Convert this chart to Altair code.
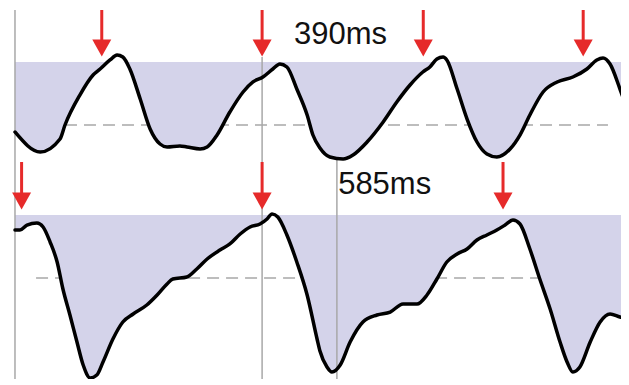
import altair as alt
import pandas as pd

# ---------------- data (time in ms, amplitude relative: 0 = dashed baseline, 1 = shading ceiling)
top_ms = [0, 61, 109, 121, 157, 189, 206, 230, 247, 261, 278, 303, 327, 351, 368, 399, 416, 448, 465, 489,
          520, 552, 576, 600, 624, 641, 658, 682, 707, 721, 738, 762, 794, 818, 852, 891, 924, 956, 987, 1004,
          1021, 1036, 1045, 1070, 1094, 1118, 1142, 1166, 1198, 1222, 1246, 1278, 1312, 1350, 1384, 1408, 1423,
          1440, 1464, 1486]
top_amp = [-0.111, -0.429, -0.222, 0.0, 0.476, 0.794, 0.889, 1.032, 1.111, 1.079, 0.889, 0.413, -0.063, -0.302,
           -0.349, -0.333, -0.349, -0.381, -0.349, -0.159, 0.206, 0.524, 0.683, 0.762, 0.889, 0.968, 0.921, 0.571,
           0.159, -0.159, -0.365, -0.508, -0.540, -0.476, -0.270, 0.048, 0.365, 0.635, 0.841, 0.921, 1.048, 1.079,
           1.032, 0.571, 0.095, -0.270, -0.460, -0.508, -0.381, -0.159, 0.159, 0.524, 0.683, 0.762, 0.889, 1.032,
           1.063, 0.968, 0.571, 0.159]

bot_ms = [0, 12, 29, 53, 68, 85, 102, 116, 133, 150, 165, 182, 198, 213, 237, 261, 286, 319, 344, 368, 382, 416,
          440, 465, 496, 520, 545, 569, 593, 610, 622, 636, 658, 682, 707, 731, 738, 755, 767, 787, 811, 842, 876,
          908, 939, 973, 997, 1021, 1045, 1070, 1094, 1118, 1142, 1166, 1186, 1205, 1222, 1246, 1270, 1295, 1319,
          1336, 1350, 1367, 1392, 1416, 1440, 1464, 1486]
bot_amp = [0.762, 0.762, 0.841, 0.873, 0.810, 0.571, 0.254, -0.175, -0.587, -1.016, -1.381, -1.587, -1.540, -1.333,
           -0.968, -0.698, -0.571, -0.429, -0.270, -0.095, -0.016, 0.016, 0.143, 0.302, 0.444, 0.540, 0.698, 0.810,
           0.857, 0.937, 1.016, 0.968, 0.683, 0.254, -0.270, -0.968, -1.159, -1.413, -1.492, -1.381, -1.016, -0.698,
           -0.587, -0.540, -0.413, -0.413, -0.270, -0.016, 0.254, 0.381, 0.460, 0.603, 0.683, 0.762, 0.841, 0.921,
           0.857, 0.460, -0.016, -0.492, -1.016, -1.333, -1.492, -1.413, -1.016, -0.698, -0.571, -0.619, -0.651]

top_arrows_ms = [210, 598, 988, 1375]
bot_arrows_ms = [16, 598, 1181]

top_label = "390ms"
bot_label = "585ms"
top_label_ms, top_label_amp = 675, 1.286
bot_label_ms, bot_label_amp = 782, 1.333

# vertical markers: time, lower amp, upper amp
top_vlines_ms = [0, 598, 779]
top_vlines_lo = [-0.5873, -0.5873, -0.5873]
top_vlines_hi = [1.8254, 1.079, -0.556]
bot_vlines_ms = [0, 598, 779]
bot_vlines_lo = [-1.6032, -1.6032, -1.6032]
bot_vlines_hi = [1.8413, 1.8413, 1.8413]

top_dash = (121, 1435)
bot_dash = (51, 1435)

X_DOMAIN = [-16.9, 1466.5]
TOP_DOMAIN = [-0.5873, 1.8254]
BOT_DOMAIN = [-1.6032, 1.8413]
W = 613
TOP_H = 152
BOT_H = 217

FILL = "#d4d3ea"
RED = "#e62a2a"
GREY = "#a8a8a8"
ARROW_SHAPE = "M-1,-0.9L1,-0.9L0,0.9Z"


def panel(ms, amp, arrows, label, label_ms, label_amp, vms, vlo, vhi, dash, ydom, h):
    xs = alt.Scale(domain=X_DOMAIN, nice=False, zero=False)
    ys = alt.Scale(domain=ydom, nice=False, zero=False)
    wave = pd.DataFrame({"t": ms, "a": amp})
    base = alt.Chart(wave).transform_calculate(cap="min(datum.a, 1)")

    dash_rule = alt.Chart(pd.DataFrame({"t0": [dash[0]], "t1": [dash[1]], "a": [0.0]})).mark_rule(
        color=GREY, strokeWidth=1.5, strokeDash=[12, 7]
    ).encode(
        x=alt.X("t0:Q", scale=xs, axis=None),
        x2="t1:Q",
        y=alt.Y("a:Q", scale=ys, axis=None),
    )

    area = base.mark_area(color=FILL, opacity=1, interpolate="monotone", clip=True).encode(
        x=alt.X("t:Q", scale=xs, axis=None),
        y=alt.Y("cap:Q", scale=ys, axis=None),
        y2=alt.datum(1.0),
    )

    vdf = pd.DataFrame({"t": vms, "lo": vlo, "hi": vhi})
    vrules = alt.Chart(vdf).mark_rule(color=GREY, strokeWidth=1.5).encode(
        x=alt.X("t:Q", scale=xs, axis=None),
        y=alt.Y("lo:Q", scale=ys, axis=None),
        y2="hi:Q",
    )

    line = base.mark_line(color="#000000", strokeWidth=3.5, interpolate="monotone",
                          strokeJoin="round", strokeCap="round", clip=True).encode(
        x=alt.X("t:Q", scale=xs, axis=None),
        y=alt.Y("a:Q", scale=ys, axis=None),
    )

    adf = pd.DataFrame({"t": arrows, "top": [ydom[1]] * len(arrows), "shaft_end": [1.317] * len(arrows),
                        "head": [1.222] * len(arrows)})
    shafts = alt.Chart(adf).mark_rule(color=RED, strokeWidth=3).encode(
        x=alt.X("t:Q", scale=xs, axis=None),
        y=alt.Y("top:Q", scale=ys, axis=None),
        y2="shaft_end:Q",
    )
    heads = alt.Chart(adf).mark_point(shape=ARROW_SHAPE, filled=True, color=RED, opacity=1,
                                      size=361, strokeWidth=0).encode(
        x=alt.X("t:Q", scale=xs, axis=None),
        y=alt.Y("head:Q", scale=ys, axis=None),
    )

    text = alt.Chart(pd.DataFrame({"t": [label_ms], "a": [label_amp], "s": [label]})).mark_text(
        font="Liberation Sans", fontSize=31, color="#111111", align="left", baseline="alphabetic"
    ).encode(
        x=alt.X("t:Q", scale=xs, axis=None),
        y=alt.Y("a:Q", scale=ys, axis=None),
        text="s:N",
    )

    return alt.layer(dash_rule, area, vrules, line, shafts, heads, text).properties(width=W, height=h)


top = panel(top_ms, top_amp, top_arrows_ms, top_label, top_label_ms, top_label_amp,
            top_vlines_ms, top_vlines_lo, top_vlines_hi, top_dash, TOP_DOMAIN, TOP_H)
bot = panel(bot_ms, bot_amp, bot_arrows_ms, bot_label, bot_label_ms, bot_label_amp,
            bot_vlines_ms, bot_vlines_lo, bot_vlines_hi, bot_dash, BOT_DOMAIN, BOT_H)

chart = alt.vconcat(top, bot, spacing=0, bounds="flush").properties(
    padding=0, background="white"
).configure_view(stroke=None)

chart.save("out.html", embed_options={"renderer": "svg", "actions": False})
